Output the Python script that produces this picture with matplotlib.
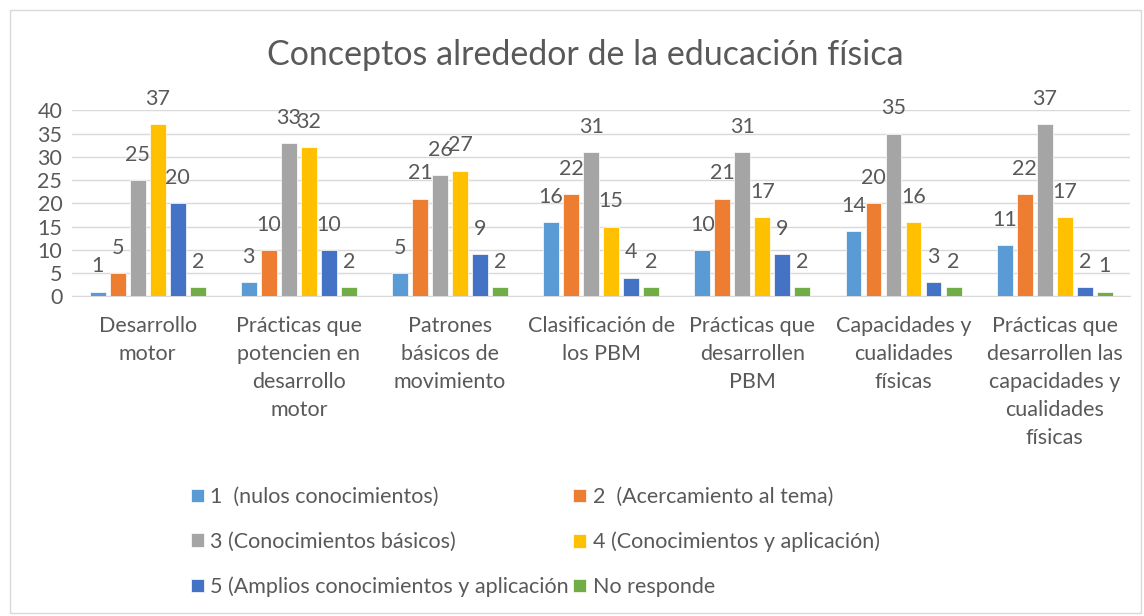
import matplotlib.pyplot as plt
import numpy as np
from matplotlib.patches import Rectangle

plt.rcParams['font.family'] = ['Lato', 'DejaVu Sans']

categories = ["Desarrollo\nmotor", "Prácticas que\npotencien en\ndesarrollo\nmotor",
              "Patrones\nbásicos de\nmovimiento", "Clasificación de\nlos PBM",
              "Prácticas que\ndesarrollen\nPBM", "Capacidades y\ncualidades\nfísicas",
              "Prácticas que\ndesarrollen las\ncapacidades y\ncualidades\nfísicas"]
s1 = [1, 3, 5, 16, 10, 14, 11]
s2 = [5, 10, 21, 22, 21, 20, 22]
s3 = [25, 33, 26, 31, 31, 35, 37]
s4 = [37, 32, 27, 15, 17, 16, 17]
s5 = [20, 10, 9, 4, 9, 3, 2]
s6 = [2, 2, 2, 2, 2, 2, 1]
series = [s1, s2, s3, s4, s5, s6]
names = ["1  (nulos conocimientos)", "2  (Acercamiento al tema)",
         "3 (Conocimientos básicos)", "4 (Conocimientos y aplicación)",
         "5 (Amplios conocimientos y aplicación", "No responde"]
colors = ["#5B9BD5", "#ED7D31", "#A5A5A5", "#FFC000", "#4472C4", "#70AD47"]
txt = "#595959"

fig = plt.figure(figsize=(11.44, 6.16), dpi=100)
fig.patches.append(Rectangle((0.009, 0.005), 0.988, 0.978, transform=fig.transFigure,
                             fill=False, edgecolor="#D9D9D9", lw=1))
ax = fig.add_axes([0.063, 0.519, 0.925, 0.302])

x = np.arange(len(categories))
step = 0.1325
w = 0.105
handles = []
for i, (vals, c, n) in enumerate(zip(series, colors, names)):
    pos = x + (i - 2.5) * step
    bars = ax.bar(pos, vals, w, color=c, label=n, zorder=3,
                  edgecolor="white", linewidth=0.5)
    handles.append(bars)
    for p, v in zip(pos, vals):
        ax.annotate(str(v), (p, v), xytext=(0, 11), textcoords="offset points",
                    ha="center", va="bottom", fontsize=15.5, color=txt,
                    annotation_clip=False)

ax.set_ylim(0, 40)
ax.set_xlim(-0.5, len(categories) - 0.5)
ax.set_yticks(range(0, 41, 5))
ax.tick_params(axis="y", length=0, labelsize=15.5, labelcolor=txt, pad=7)
ax.set_xticks(x)
ax.set_xticklabels(categories, fontsize=15.5, color=txt, linespacing=1.5)
ax.tick_params(axis="x", length=0, pad=14)
ax.grid(axis="y", color="#D9D9D9", lw=1, zorder=0)
for s in ["top", "right", "left"]:
    ax.spines[s].set_visible(False)
ax.spines["bottom"].set_color("#D9D9D9")

fig.text(0.512, 0.91, "Conceptos alrededor de la educación física",
         ha="center", va="center", fontsize=24.5, color=txt)

# row-wise order like Excel
order = [0, 2, 4, 1, 3, 5]
fig.legend([handles[k] for k in order], [names[k] for k in order],
           loc="center", bbox_to_anchor=(0.468, 0.12), ncol=2, frameon=False,
           fontsize=15.5, labelcolor=txt, handlelength=0.6, handleheight=0.6,
           handletextpad=0.3, columnspacing=0.2, labelspacing=1.15)

fig.savefig("out.png", dpi=100)
